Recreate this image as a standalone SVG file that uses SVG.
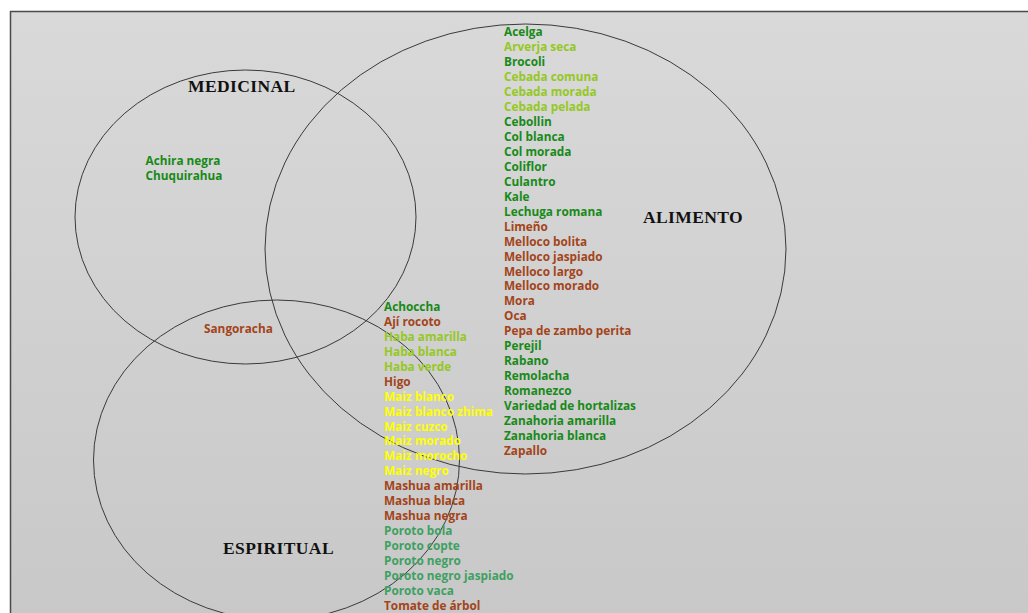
<svg xmlns="http://www.w3.org/2000/svg" width="1028" height="613" viewBox="0 0 1028 613">
  <defs>
    <linearGradient id="bg" x1="0" y1="0" x2="0" y2="1">
      <stop offset="0" stop-color="#d9d9d9"/>
      <stop offset="1" stop-color="#c8c8c8"/>
    </linearGradient>
  </defs>
  <style>
    .set { fill: none; stroke: #3a3a3a; stroke-width: 1; }
    .title { font-family: "Liberation Serif", "Times New Roman", serif; font-weight: bold; font-size: 17.5px; letter-spacing: 0.4px; fill: #111; }
    .item { font-family: "Open Sans", "DejaVu Sans", sans-serif; font-weight: bold; font-size: 11.8px; }
    .dg { fill: #178a17; }
    .lg { fill: #95c823; }
    .br { fill: #a3441a; }
    .ye { fill: #ffff00; }
    .mg { fill: #3ea062; }
  </style>

  <!-- page background and frame -->
  <rect x="0" y="0" width="1028" height="613" fill="#ffffff"/>
  <rect x="10.5" y="11.5" width="1030" height="610" fill="url(#bg)" stroke="#4a4a4a" stroke-width="1.5"/>

  <!-- set outlines -->
  <g id="sets">
    <ellipse id="set-medicinal" class="set" cx="245.5" cy="217" rx="170.5" ry="147"/>
    <ellipse id="set-alimento" class="set" cx="525.5" cy="249" rx="260.5" ry="225"/>
    <ellipse id="set-espiritual" class="set" cx="276.5" cy="460" rx="183" ry="160"/>
  </g>

  <!-- set titles -->
  <g id="titles">
    <text class="title" x="188" y="92">MEDICINAL</text>
    <text class="title" x="643" y="223">ALIMENTO</text>
    <text class="title" x="223" y="554">ESPIRITUAL</text>
  </g>

  <!-- medicinal only -->
  <g id="medicinal-items" class="item">
    <text class="dg" x="145.5" y="165.3">Achira negra</text>
    <text class="dg" x="145.5" y="180.2">Chuquirahua</text>
  </g>

  <!-- medicinal and espiritual -->
  <g id="medicinal-espiritual-items" class="item">
    <text class="br" x="204" y="333.3">Sangoracha</text>
  </g>

  <!-- alimento -->
  <g id="alimento-items" class="item">
    <text class="dg" x="504" y="36.3">Acelga</text>
    <text class="lg" x="504" y="51.25">Arverja seca</text>
    <text class="dg" x="504" y="66.2">Brocoli</text>
    <text class="lg" x="504" y="81.15">Cebada comuna</text>
    <text class="lg" x="504" y="96.1">Cebada morada</text>
    <text class="lg" x="504" y="111.05">Cebada pelada</text>
    <text class="dg" x="504" y="126">Cebollin</text>
    <text class="dg" x="504" y="140.95">Col blanca</text>
    <text class="dg" x="504" y="155.9">Col morada</text>
    <text class="dg" x="504" y="170.85">Coliflor</text>
    <text class="dg" x="504" y="185.8">Culantro</text>
    <text class="dg" x="504" y="200.75">Kale</text>
    <text class="dg" x="504" y="215.7">Lechuga romana</text>
    <text class="br" x="504" y="230.65">Limeño</text>
    <text class="br" x="504" y="245.6">Melloco bolita</text>
    <text class="br" x="504" y="260.55">Melloco jaspiado</text>
    <text class="br" x="504" y="275.5">Melloco largo</text>
    <text class="br" x="504" y="290.45">Melloco morado</text>
    <text class="br" x="504" y="305.4">Mora</text>
    <text class="br" x="504" y="320.35">Oca</text>
    <text class="br" x="504" y="335.3">Pepa de zambo perita</text>
    <text class="dg" x="504" y="350.25">Perejil</text>
    <text class="dg" x="504" y="365.2">Rabano</text>
    <text class="dg" x="504" y="380.15">Remolacha</text>
    <text class="dg" x="504" y="395.1">Romanezco</text>
    <text class="dg" x="504" y="410.05">Variedad de hortalizas</text>
    <text class="dg" x="504" y="425">Zanahoria amarilla</text>
    <text class="dg" x="504" y="439.95">Zanahoria blanca</text>
    <text class="br" x="504" y="454.9">Zapallo</text>
  </g>

  <!-- alimento and espiritual -->
  <g id="alimento-espiritual-items" class="item">
    <text class="dg" x="384" y="310.9">Achoccha</text>
    <text class="br" x="384" y="325.85">Ají rocoto</text>
    <text class="lg" x="384" y="340.8">Haba amarilla</text>
    <text class="lg" x="384" y="355.75">Haba blanca</text>
    <text class="lg" x="384" y="370.7">Haba verde</text>
    <text class="br" x="384" y="385.65">Higo</text>
    <text class="ye" x="384" y="400.6">Maiz blanco</text>
    <text class="ye" x="384" y="415.55">Maiz blanco zhima</text>
    <text class="ye" x="384" y="430.5">Maiz cuzco</text>
    <text class="ye" x="384" y="445.45">Maiz morado</text>
    <text class="ye" x="384" y="460.4">Maiz morocho</text>
    <text class="ye" x="384" y="475.35">Maiz negro</text>
    <text class="br" x="384" y="490.3">Mashua amarilla</text>
    <text class="br" x="384" y="505.25">Mashua blaca</text>
    <text class="br" x="384" y="520.2">Mashua negra</text>
    <text class="mg" x="384" y="535.15">Poroto bola</text>
    <text class="mg" x="384" y="550.1">Poroto copte</text>
    <text class="mg" x="384" y="565.05">Poroto negro</text>
    <text class="mg" x="384" y="580">Poroto negro jaspiado</text>
    <text class="mg" x="384" y="594.95">Poroto vaca</text>
    <text class="br" x="384" y="609.9">Tomate de árbol</text>
  </g>
</svg>
